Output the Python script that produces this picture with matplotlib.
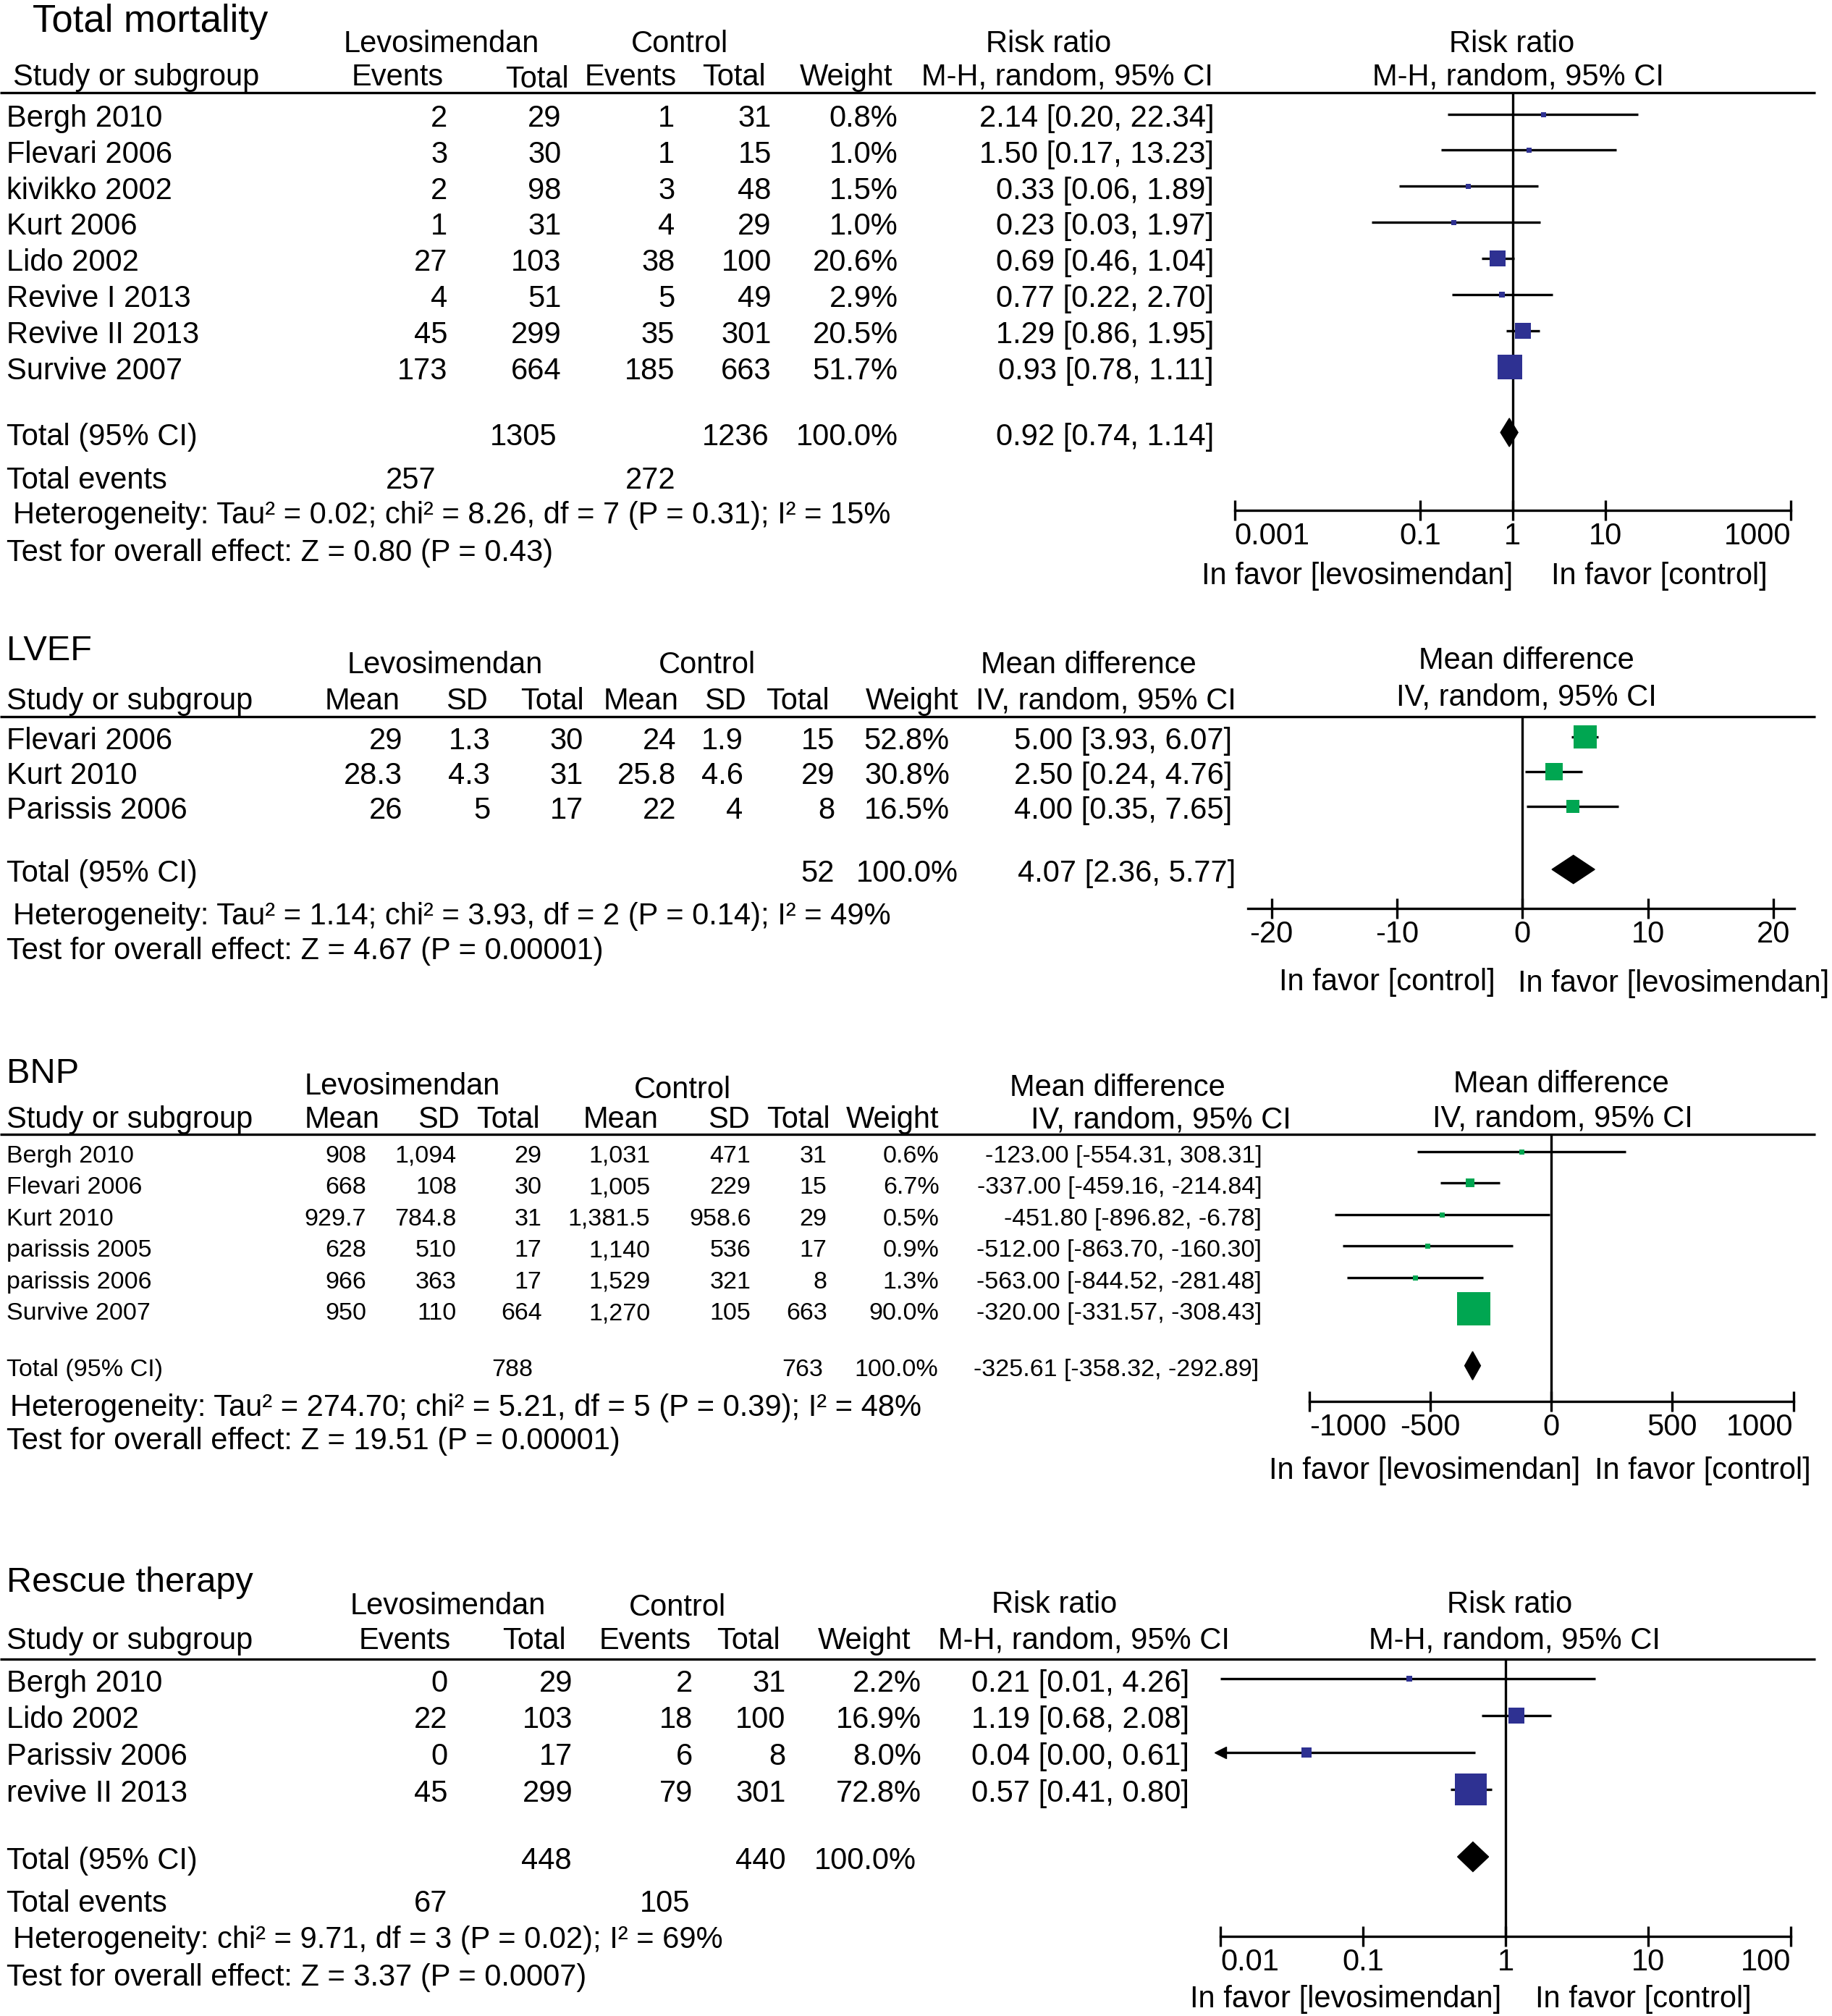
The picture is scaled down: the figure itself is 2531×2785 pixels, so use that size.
import matplotlib.pyplot as plt
import numpy as np

plt.rcParams["font.family"] = ["Liberation Sans", "DejaVu Sans"]

# ------------------------------------------------------------------ data
# Total mortality (risk ratio)
mort_study = ["Bergh 2010", "Flevari 2006", "kivikko 2002", "Kurt 2006",
              "Lido 2002", "Revive I 2013", "Revive II 2013", "Survive 2007"]
mort_lev_events = [2, 3, 2, 1, 27, 4, 45, 173]
mort_lev_total = [29, 30, 98, 31, 103, 51, 299, 664]
mort_ctl_events = [1, 1, 3, 4, 38, 5, 35, 185]
mort_ctl_total = [31, 15, 48, 29, 100, 49, 301, 663]
mort_weight = [0.8, 1.0, 1.5, 1.0, 20.6, 2.9, 20.5, 51.7]
mort_rr = [2.14, 1.50, 0.33, 0.23, 0.69, 0.77, 1.29, 0.93]
mort_lo = [0.20, 0.17, 0.06, 0.03, 0.46, 0.22, 0.86, 0.78]
mort_hi = [22.34, 13.23, 1.89, 1.97, 1.04, 2.70, 1.95, 1.11]
mort_pooled = [0.92, 0.74, 1.14]
mort_sum_total = [1305, 1236]
mort_sum_events = [257, 272]
mort_het = "Heterogeneity: Tau² = 0.02; chi² = 8.26, df = 7 (P = 0.31); I² = 15%"
mort_test = "Test for overall effect: Z = 0.80 (P = 0.43)"
mort_ticks = [0.001, 0.1, 1, 10, 1000]
mort_ticklabels = ["0.001", "0.1", "1", "10", "1000"]

# LVEF (mean difference)
lvef_study = ["Flevari 2006", "Kurt 2010", "Parissis 2006"]
lvef_lev_mean = [29, 28.3, 26]
lvef_lev_sd = [1.3, 4.3, 5]
lvef_lev_total = [30, 31, 17]
lvef_ctl_mean = [24, 25.8, 22]
lvef_ctl_sd = [1.9, 4.6, 4]
lvef_ctl_total = [15, 29, 8]
lvef_weight = [52.8, 30.8, 16.5]
lvef_md = [5.00, 2.50, 4.00]
lvef_lo = [3.93, 0.24, 0.35]
lvef_hi = [6.07, 4.76, 7.65]
lvef_pooled = [4.07, 2.36, 5.77]
lvef_sum_total = [52]
lvef_het = "Heterogeneity: Tau² = 1.14; chi² = 3.93, df = 2 (P = 0.14); I² = 49%"
lvef_test = "Test for overall effect: Z = 4.67 (P = 0.00001)"
lvef_ticks = [-20, -10, 0, 10, 20]

# BNP (mean difference)
bnp_study = ["Bergh 2010", "Flevari 2006", "Kurt 2010", "parissis 2005",
             "parissis 2006", "Survive 2007"]
bnp_lev_mean = [908, 668, 929.7, 628, 966, 950]
bnp_lev_sd = [1094, 108, 784.8, 510, 363, 110]
bnp_lev_total = [29, 30, 31, 17, 17, 664]
bnp_ctl_mean = [1031, 1005, 1381.5, 1140, 1529, 1270]
bnp_ctl_sd = [471, 229, 958.6, 536, 321, 105]
bnp_ctl_total = [31, 15, 29, 17, 8, 663]
bnp_weight = [0.6, 6.7, 0.5, 0.9, 1.3, 90.0]
bnp_md = [-123.00, -337.00, -451.80, -512.00, -563.00, -320.00]
bnp_lo = [-554.31, -459.16, -896.82, -863.70, -844.52, -331.57]
bnp_hi = [308.31, -214.84, -6.78, -160.30, -281.48, -308.43]
bnp_pooled = [-325.61, -358.32, -292.89]
bnp_sum_total = [788, 763]
bnp_het = "Heterogeneity: Tau² = 274.70; chi² = 5.21, df = 5 (P = 0.39); I² = 48%"
bnp_test = "Test for overall effect: Z = 19.51 (P = 0.00001)"
bnp_ticks = [-1000, -500, 0, 500, 1000]

# Rescue therapy (risk ratio)
resc_study = ["Bergh 2010", "Lido 2002", "Parissiv 2006", "revive II 2013"]
resc_lev_events = [0, 22, 0, 45]
resc_lev_total = [29, 103, 17, 299]
resc_ctl_events = [2, 18, 6, 79]
resc_ctl_total = [31, 100, 8, 301]
resc_weight = [2.2, 16.9, 8.0, 72.8]
resc_rr = [0.21, 1.19, 0.04, 0.57]
resc_lo = [0.01, 0.68, 0.00, 0.41]
resc_hi = [4.26, 2.08, 0.61, 0.80]
resc_pooled = [0.59, 0.46, 0.76]
resc_sum_total = [448, 440]
resc_sum_events = [67, 105]
resc_het = "Heterogeneity: chi² = 9.71, df = 3 (P = 0.02); I² = 69%"
resc_test = "Test for overall effect: Z = 3.37 (P = 0.0007)"
resc_ticks = [0.01, 0.1, 1, 10, 100]
resc_ticklabels = ["0.01", "0.1", "1", "10", "100"]

# ------------------------------------------------------------------ layout
W_PX, H_PX = 2531, 2785
VIEW_W = 1420.0
VIEW_H = 1564.0

BLUE = "#2e3192"
GREEN = "#00a651"
FS = 30
FS_SMALL = 24.5
LW = 2.4
MARK_DY = -3.5

fig = plt.figure(figsize=(W_PX / 100, H_PX / 100), dpi=100)
page = fig.add_axes([0, 0, 1, 1])
page.set_xlim(0, VIEW_W)
page.set_ylim(VIEW_H, 0)
page.axis("off")


def put(x, y, s, ha="left", size=FS):
    page.text(x, y, s, ha=ha, va="center", fontsize=size)


def column(x, ys, values, size=FS):
    for y, v in zip(ys, values):
        put(x, y, str(v), ha="right", size=size)


def rule(y):
    page.plot([0, 1407], [y, y], color="black", lw=LW, solid_capstyle="butt")


def ci_text(est, lo, hi):
    return f"{est:.2f} [{lo:.2f}, {hi:.2f}]"


def num(v):
    return f"{v:,}"


def forest(x0, x1, y_top, y_axis, xlim, ticks, labels, log, ref,
           edge_align=True):
    ax = fig.add_axes([
        x0 / VIEW_W,
        1 - y_axis / VIEW_H,
        (x1 - x0) / VIEW_W,
        (y_axis - y_top) / VIEW_H,
    ])
    if log:
        ax.set_xscale("log")
    ax.set_xlim(*xlim)
    ax.set_ylim(y_axis, y_top)
    ax.set_xticks(ticks)
    ax.set_xticklabels(labels)
    ax.minorticks_off()
    ax.patch.set_alpha(0)
    for side in ["left", "right", "top"]:
        ax.spines[side].set_visible(False)
    ax.spines["bottom"].set_linewidth(LW)
    ax.tick_params(axis="x", direction="inout", length=20, width=LW,
                   labelsize=FS, pad=1.5)
    ax.tick_params(axis="y", left=False, labelleft=False)
    if edge_align:
        tl = ax.get_xticklabels()
        tl[0].set_ha("left")
        tl[-1].set_ha("right")
    ax.axvline(ref, color="black", lw=LW, zorder=1)
    return ax


def draw_studies(ax, ys, est, lo, hi, weight, k, color):
    xmin = ax.get_xlim()[0]
    for y, e, l, h, w in zip(ys, est, lo, hi, weight):
        y = y + MARK_DY
        left = max(l, xmin)
        ax.plot([left, h], [y, y], color="black", lw=LW,
                solid_capstyle="butt", zorder=2)
        if l < xmin:
            ax.plot(xmin, y, marker="<", ms=11, color="black",
                    clip_on=False, zorder=3)
        side = max(k * np.sqrt(w), 7) * 0.72
        ax.plot(e, y, marker="s", ms=side, color=color, mec=color,
                mew=0, zorder=3, clip_on=False)


def draw_diamond(ax, y, pooled, half=11):
    e, l, h = pooled
    y = y + MARK_DY
    ax.fill([l, e, h, e], [y, y - half, y, y + half],
            color="black", zorder=3, clip_on=False)


# ------------------------------------------------------------------ Total mortality
put(25, 17, "Total mortality", size=38)
put(342, 34, "Levosimendan", ha="center")
put(527, 34, "Control", ha="center")
put(813, 34, "Risk ratio", ha="center")
put(1172, 34, "Risk ratio", ha="center")
put(10, 60, "Study or subgroup")
put(308, 60, "Events", ha="center")
put(416, 62, "Total", ha="center")
put(489, 60, "Events", ha="center")
put(569, 60, "Total", ha="center")
put(656, 60, "Weight", ha="center")
put(827, 60, "M-H, random, 95% CI", ha="center")
put(1177, 60, "M-H, random, 95% CI", ha="center")
rule(72)

ys = [92 + 28 * i for i in range(len(mort_study))]
for y, s in zip(ys, mort_study):
    put(5, y, s)
column(347, ys, mort_lev_events)
column(435, ys, mort_lev_total)
column(523, ys, mort_ctl_events)
column(598, ys, mort_ctl_total)
column(696, ys, [f"{w:.1f}%" for w in mort_weight])
column(941, ys, [ci_text(*t) for t in zip(mort_rr, mort_lo, mort_hi)])

put(5, 339, "Total (95% CI)")
column(432, [339], [mort_sum_total[0]])
column(596, [339], [mort_sum_total[1]])
column(696, [339], ["100.0%"])
column(941, [339], [ci_text(*mort_pooled)])
put(5, 373, "Total events")
column(338, [373], [mort_sum_events[0]])
column(524, [373], [mort_sum_events[1]])
put(10, 400, mort_het)
put(5, 429, mort_test)

ax1 = forest(957, 1388, 72, 396, (0.001, 1000), mort_ticks, mort_ticklabels,
             True, 1)
draw_studies(ax1, ys, mort_rr, mort_lo, mort_hi, mort_weight, 4.7, BLUE)
draw_diamond(ax1, 339, mort_pooled)
put(1052, 447, "In favor [levosimendan]", ha="center")
put(1286, 447, "In favor [control]", ha="center")

# ------------------------------------------------------------------ LVEF
put(5, 505, "LVEF", size=35)
put(345, 516, "Levosimendan", ha="center")
put(548, 516, "Control", ha="center")
put(844, 516, "Mean difference", ha="center")
put(1183, 513, "Mean difference", ha="center")
put(5, 544, "Study or subgroup")
for x, s in [(281, "Mean"), (362, "SD"), (428, "Total"), (497, "Mean"),
             (562, "SD"), (618, "Total"), (707, "Weight"),
             (857, "IV, random, 95% CI")]:
    put(x, 544, s, ha="center")
put(1183, 541, "IV, random, 95% CI", ha="center")
rule(556)

ys = [575 + 27 * i for i in range(len(lvef_study))]
for y, s in zip(ys, lvef_study):
    put(5, y, s)
column(312, ys, [f"{v:g}" for v in lvef_lev_mean])
column(380, ys, [f"{v:g}" for v in lvef_lev_sd])
column(452, ys, lvef_lev_total)
column(524, ys, [f"{v:g}" for v in lvef_ctl_mean])
column(576, ys, [f"{v:g}" for v in lvef_ctl_sd])
column(647, ys, lvef_ctl_total)
column(736, ys, [f"{w:.1f}%" for w in lvef_weight])
column(955, ys, [ci_text(*t) for t in zip(lvef_md, lvef_lo, lvef_hi)])

put(5, 678, "Total (95% CI)")
column(647, [678], lvef_sum_total)
column(743, [678], ["100.0%"])
column(958, [678], [ci_text(*lvef_pooled)])
put(10, 711, lvef_het)
put(5, 738, lvef_test)

ax2 = forest(967, 1391, 556, 705, (-21.9, 21.7), lvef_ticks,
             [str(t) for t in lvef_ticks], False, 0, edge_align=False)
draw_studies(ax2, ys, lvef_md, lvef_lo, lvef_hi, lvef_weight, 4.3, GREEN)
draw_diamond(ax2, 678, lvef_pooled)
put(1075, 762, "In favor [control]", ha="center")
put(1297, 763, "In favor [levosimendan]", ha="center")

# ------------------------------------------------------------------ BNP
put(5, 833, "BNP", size=35)
put(312, 843, "Levosimendan", ha="center")
put(529, 846, "Control", ha="center")
put(866, 844, "Mean difference", ha="center")
put(1210, 841, "Mean difference", ha="center")
put(5, 869, "Study or subgroup")
for x, s in [(265, "Mean"), (340, "SD"), (394, "Total"), (481, "Mean"),
             (565, "SD"), (619, "Total"), (692, "Weight"),
             (900, "IV, random, 95% CI")]:
    put(x, 869, s, ha="center")
put(1211, 868, "IV, random, 95% CI", ha="center")
rule(880)

ys = [897 + 24.4 * i for i in range(len(bnp_study))]
for y, s in zip(ys, bnp_study):
    put(5, y, s, size=FS_SMALL)
column(284, ys, [num(v) for v in bnp_lev_mean], FS_SMALL)
column(354, ys, [num(v) for v in bnp_lev_sd], FS_SMALL)
column(420, ys, bnp_lev_total, FS_SMALL)
column(504, ys, [num(v) for v in bnp_ctl_mean], FS_SMALL)
column(582, ys, [num(v) for v in bnp_ctl_sd], FS_SMALL)
column(641, ys, bnp_ctl_total, FS_SMALL)
column(728, ys, [f"{w:.1f}%" for w in bnp_weight], FS_SMALL)
column(978, ys, [ci_text(*t) for t in zip(bnp_md, bnp_lo, bnp_hi)], FS_SMALL)

put(5, 1063, "Total (95% CI)", size=FS_SMALL)
column(413, [1063], [bnp_sum_total[0]], FS_SMALL)
column(638, [1063], [bnp_sum_total[1]], FS_SMALL)
column(727, [1063], ["100.0%"], FS_SMALL)
column(976, [1063], [ci_text(*bnp_pooled)], FS_SMALL)
put(8, 1092, bnp_het)
put(5, 1118, bnp_test)

ax3 = forest(1015, 1390, 880, 1087, (-1000, 1000), bnp_ticks,
             [str(t) for t in bnp_ticks], False, 0)
draw_studies(ax3, ys, bnp_md, bnp_lo, bnp_hi, bnp_weight, 4.85, GREEN)
draw_diamond(ax3, 1063, bnp_pooled)
put(1104, 1141, "In favor [levosimendan]", ha="center")
put(1320, 1141, "In favor [control]", ha="center")

# ------------------------------------------------------------------ Rescue therapy
put(5, 1228, "Rescue therapy", size=35)
put(347, 1246, "Levosimendan", ha="center")
put(525, 1247, "Control", ha="center")
put(817, 1245, "Risk ratio", ha="center")
put(1170, 1245, "Risk ratio", ha="center")
put(5, 1273, "Study or subgroup")
for x, s in [(314, "Events"), (414, "Total"), (500, "Events"),
             (580, "Total"), (670, "Weight"), (840, "M-H, random, 95% CI")]:
    put(x, 1273, s, ha="center")
put(1174, 1273, "M-H, random, 95% CI", ha="center")
rule(1287)

ys = [1306 + 28.5 * i for i in range(len(resc_study))]
for y, s in zip(ys, resc_study):
    put(5, y, s)
column(347, ys, resc_lev_events)
column(444, ys, resc_lev_total)
column(537, ys, resc_ctl_events)
column(609, ys, resc_ctl_total)
column(714, ys, [f"{w:.1f}%" for w in resc_weight])
column(922, ys, [ci_text(*t) for t in zip(resc_rr, resc_lo, resc_hi)])

put(5, 1444, "Total (95% CI)")
column(443, [1444], [resc_sum_total[0]])
column(609, [1444], [resc_sum_total[1]])
column(710, [1444], ["100.0%"])
put(5, 1477, "Total events")
column(347, [1477], [resc_sum_events[0]])
column(535, [1477], [resc_sum_events[1]])
put(10, 1505, resc_het)
put(5, 1534, resc_test)

ax4 = forest(946, 1388, 1287, 1502, (0.01, 100), resc_ticks, resc_ticklabels,
             True, 1)
draw_studies(ax4, ys, resc_rr, resc_lo, resc_hi, resc_weight, 5.2, BLUE)
draw_diamond(ax4, 1444, resc_pooled, half=11.5)
put(1043, 1551, "In favor [levosimendan]", ha="center")
put(1274, 1551, "In favor [control]", ha="center")

fig.savefig("out.png", dpi=100)
